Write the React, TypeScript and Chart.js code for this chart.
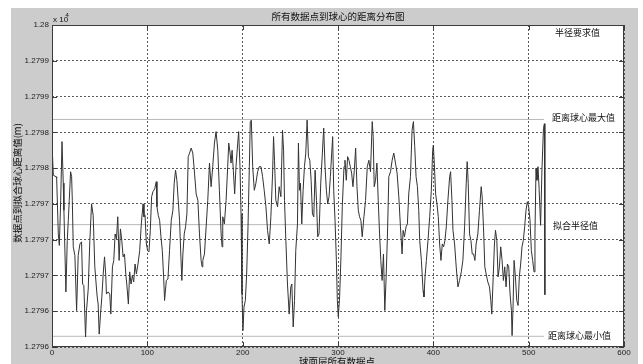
import React, { useEffect, useRef } from "react";
import { Chart, registerables } from "chart.js";

Chart.register(...registerables);

const TITLE = "所有数据点到球心的距离分布图";
const X_LABEL = "球面层所有数据点";
const Y_LABEL = "数据点到拟合球心距离值(m)";
const Y_EXP_BASE = "x 10";
const Y_EXP_POWER = "4";

const xTickValues = [0, 100, 200, 300, 400, 500, 600];
const yTickValues = [12795.5, 12796, 12796.5, 12797, 12797.5, 12798, 12798.5, 12799, 12799.5, 12800];
const yTickLabels = ["1.2796", "1.2796", "1.2797", "1.2797", "1.2797", "1.2798", "1.2798", "1.2799", "1.2799", "1.28"];

const refNames = ["半径要求值", "距离球心最大值", "拟合半径值", "距离球心最小值"];
const refValues = [12800, 12798.68, 12797.21, 12795.65];
const refLineEnd = 516;
const refLabelX = [527.5, 524.5, 525.5, 520.3];
const refLabelY = [12799.89, 12798.7, 12797.2, 12795.66];

// [point index, distance (m)]
const distanceSamples: [number, number][] = [
  [0, 12798.34], [1.4, 12797.9], [4.2, 12797.88], [4.9, 12797.86], [6.6, 12797.08], [7.7, 12796.92],
  [9.1, 12797.55], [10.5, 12798.37], [11.8, 12797.79], [12.5, 12797.41], [14.6, 12796.27], [16.0, 12796.99],
  [17.1, 12797.27], [18.1, 12797.55], [19.5, 12797.95], [20.6, 12797.88], [21.3, 12797.55], [22.3, 12796.9],
  [24.0, 12796.78], [25.8, 12796.01], [27.5, 12796.78], [29.3, 12796.94], [31.0, 12796.97], [32.1, 12796.38],
  [33.4, 12796.36], [35.2, 12795.64], [36.2, 12796.01], [38.0, 12796.31], [39.7, 12796.99], [41.5, 12797.5],
  [43.2, 12797.34], [44.9, 12796.62], [46.7, 12796.31], [47.4, 12796.2], [48.4, 12796.1], [49.5, 12795.68],
  [50.9, 12795.96], [52.3, 12796.2], [53.7, 12796.52], [55.1, 12796.76], [56.4, 12796.5], [57.1, 12796.24],
  [58.9, 12796.27], [60.6, 12796.24], [61.7, 12795.96], [63.4, 12796.62], [64.8, 12796.71], [66.2, 12797.08],
  [67.6, 12797.01], [69.0, 12797.32], [70.4, 12796.71], [71.8, 12797.15], [73.2, 12796.99], [74.6, 12796.76],
  [76.0, 12796.8], [77.4, 12796.52], [78.7, 12796.34], [80.1, 12796.1], [81.5, 12796.55], [82.9, 12796.38],
  [84.3, 12796.5], [85.7, 12796.41], [87.1, 12796.66], [88.5, 12796.52], [90.2, 12796.66], [92.0, 12796.85],
  [93.7, 12797.22], [95.5, 12797.5], [96.5, 12797.32], [97.6, 12797.34], [99.0, 12796.94], [100.3, 12796.85],
  [101.7, 12796.83], [103.1, 12797.13], [104.5, 12797.6], [105.9, 12797.67], [107.7, 12797.71], [109.4, 12797.81],
  [110.1, 12797.46], [111.5, 12797.34], [112.9, 12797.27], [114.3, 12797.04], [115.7, 12796.85], [117.1, 12796.48],
  [118.1, 12796.15], [119.9, 12796.43], [121.6, 12796.45], [123.3, 12796.85], [125.1, 12797.27], [126.8, 12797.41],
  [128.2, 12797.79], [129.6, 12797.97], [131.0, 12797.83], [132.4, 12797.55], [133.8, 12797.27], [135.2, 12796.76],
  [136.2, 12796.43], [137.3, 12796.8], [138.7, 12797.08], [140.1, 12797.18], [141.5, 12797.36], [142.9, 12798.16],
  [144.3, 12798.21], [146.0, 12798.28], [147.7, 12798.21], [149.5, 12797.93], [151.2, 12797.64], [153.0, 12797.55],
  [154.7, 12797.08], [156.4, 12796.71], [157.5, 12796.62], [158.2, 12796.71], [159.9, 12796.8], [161.7, 12797.18],
  [163.4, 12797.55], [165.2, 12798.07], [166.9, 12797.74], [168.6, 12798.02], [170.4, 12798.35], [172.1, 12798.51],
  [173.9, 12798.25], [175.6, 12797.69], [177.4, 12797.08], [178.4, 12796.9], [179.1, 12797.32], [180.8, 12797.22],
  [182.6, 12797.55], [184.3, 12798.02], [185.4, 12798.35], [186.8, 12798.21], [187.8, 12798.07], [188.9, 12798.25],
  [190.2, 12797.97], [191.6, 12797.64], [193.0, 12798.02], [194.8, 12798.35], [195.8, 12798.51], [197.2, 12798.02],
  [198.3, 12797.36], [199.3, 12796.24], [200.3, 12795.73], [201.4, 12796.06], [202.8, 12796.15], [204.2, 12796.52],
  [205.6, 12797.18], [207.0, 12798.02], [208.0, 12798.65], [209.1, 12798.67], [210.5, 12798.02], [212.2, 12797.69],
  [213.9, 12797.79], [215.7, 12797.95], [217.4, 12798.02], [219.2, 12798.02], [220.9, 12797.88], [222.6, 12797.69],
  [224.4, 12797.46], [226.1, 12797.13], [227.9, 12796.94], [229.6, 12797.32], [231.4, 12797.93], [232.4, 12798.44],
  [233.4, 12798.11], [234.8, 12797.55], [236.6, 12797.46], [238.3, 12797.74], [240.1, 12797.6], [241.8, 12798.53],
  [242.9, 12798.25], [243.9, 12797.55], [245.3, 12796.99], [247.0, 12796.38], [248.8, 12795.96], [250.5, 12796.34],
  [251.6, 12796.38], [253.0, 12795.78], [254.4, 12796.15], [255.7, 12796.85], [257.5, 12797.22], [258.5, 12798.35],
  [259.6, 12797.69], [260.6, 12797.79], [262.0, 12797.22], [263.4, 12797.69], [264.8, 12798.02], [266.2, 12798.21],
  [267.6, 12798.67], [269.0, 12798.16], [270.4, 12798.11], [271.8, 12797.83], [273.2, 12797.36], [274.6, 12797.32],
  [276.0, 12797.97], [277.4, 12797.55], [278.7, 12797.04], [280.1, 12797.08], [281.9, 12797.79], [283.6, 12798.21],
  [285.0, 12798.56], [286.4, 12798.02], [287.8, 12797.69], [289.2, 12797.5], [290.6, 12797.6], [292.0, 12797.88],
  [293.4, 12798.21], [294.4, 12798.44], [295.5, 12797.69], [296.9, 12797.27], [298.3, 12796.71], [299.3, 12796.15],
  [300.3, 12795.92], [301.7, 12796.2], [303.1, 12796.76], [304.5, 12797.46], [306.3, 12798.02], [307.3, 12798.11],
  [308.7, 12797.83], [310.1, 12798.16], [311.5, 12798.11], [312.9, 12798.02], [314.3, 12797.93], [315.7, 12797.74],
  [317.1, 12797.97], [318.5, 12798.28], [319.9, 12797.74], [321.3, 12797.41], [322.6, 12797.32], [324.0, 12797.27],
  [325.4, 12797.04], [327.2, 12797.32], [328.9, 12797.55], [330.7, 12798.02], [332.4, 12798.11], [334.1, 12797.95],
  [335.9, 12798.65], [336.9, 12798.44], [338.0, 12797.74], [339.4, 12797.83], [340.8, 12798.07], [342.2, 12797.55],
  [343.6, 12797.08], [344.9, 12796.71], [346.3, 12796.43], [347.7, 12796.8], [349.1, 12796.01], [350.5, 12796.48],
  [351.9, 12797.08], [353.3, 12797.88], [355.1, 12797.95], [356.8, 12798.11], [358.5, 12798.21], [360.3, 12798.07],
  [362.0, 12797.93], [363.8, 12797.6], [365.5, 12797.18], [367.2, 12796.8], [368.3, 12797.13], [369.7, 12797.04],
  [371.4, 12797.18], [372.8, 12797.22], [374.2, 12797.64], [376.0, 12797.88], [377.7, 12798.53], [379.1, 12798.65],
  [380.5, 12798.3], [381.9, 12797.88], [383.3, 12797.74], [384.7, 12797.41], [385.7, 12796.99], [387.5, 12796.71],
  [389.2, 12796.29], [390.2, 12796.2], [391.3, 12796.48], [392.7, 12796.71], [394.4, 12796.99], [396.2, 12797.32],
  [397.9, 12797.69], [399.3, 12798.25], [400.0, 12798.32], [401.0, 12798.07], [402.4, 12797.64], [403.8, 12797.5],
  [405.2, 12797.32], [406.6, 12796.94], [408.0, 12796.71], [409.4, 12796.94], [410.8, 12796.9], [412.2, 12796.99],
  [413.6, 12797.18], [415.3, 12797.55], [417.1, 12797.88], [418.1, 12797.95], [419.5, 12797.55], [420.6, 12797.13],
  [422.3, 12796.94], [424.0, 12796.62], [425.8, 12796.34], [427.5, 12796.43], [429.3, 12796.55], [431.0, 12796.71],
  [432.8, 12797.18], [434.5, 12797.79], [435.5, 12798.09], [436.6, 12797.79], [438.0, 12797.08], [439.4, 12796.99],
  [440.8, 12796.8], [442.2, 12796.8], [443.6, 12796.71], [444.9, 12796.94], [446.7, 12797.08], [448.4, 12797.41],
  [450.2, 12797.74], [451.2, 12797.6], [452.6, 12797.18], [454.0, 12796.62], [455.4, 12796.52], [457.1, 12796.41],
  [458.9, 12796.34], [460.3, 12796.15], [461.3, 12795.96], [462.4, 12796.34], [464.1, 12796.94], [465.2, 12797.13],
  [466.6, 12796.99], [467.9, 12796.48], [469.3, 12796.62], [470.7, 12796.9], [472.1, 12796.71], [473.5, 12796.43],
  [474.9, 12796.62], [476.3, 12796.34], [477.7, 12796.66], [479.1, 12796.62], [480.5, 12796.24], [481.9, 12796.01],
  [482.6, 12795.66], [483.6, 12796.06], [484.7, 12796.71], [486.1, 12796.48], [487.5, 12796.15], [488.9, 12796.08],
  [490.2, 12796.48], [491.6, 12796.66], [493.0, 12796.9], [494.4, 12796.99], [495.8, 12797.18], [497.2, 12797.41],
  [498.6, 12797.53], [500.0, 12797.46], [501.4, 12797.27], [502.8, 12796.85], [504.2, 12796.71], [505.6, 12796.55],
  [506.6, 12797.08], [507.7, 12798.0], [508.7, 12797.83], [509.8, 12798.02], [511.0, 12797.7], [512.5, 12797.2],
  [514.0, 12798.0], [515.5, 12798.55], [516.5, 12798.62], [517.0, 12796.23],
];

const FIG_BG = "#cccccc";
const CJK = '"Noto Sans CJK SC", "Noto Sans", sans-serif';
const LATIN = '"Liberation Sans", Arial, sans-serif';

const matlabPlugin = {
  id: "matlabLook",
  beforeDraw(chart: any) {
    const { ctx, chartArea: a, width, height } = chart;
    ctx.save();
    ctx.fillStyle = "#ffffff";
    ctx.fillRect(0, 0, width, height);
    ctx.fillStyle = FIG_BG;
    ctx.fillRect(11, 8, width - 16, height - 8);
    ctx.fillStyle = "#ffffff";
    ctx.fillRect(a.left, a.top, a.right - a.left, a.bottom - a.top);
    ctx.restore();
  },
  afterDraw(chart: any) {
    const { ctx, chartArea: a, scales } = chart;
    const xs = scales.x;
    const ys = scales.y;
    ctx.save();
    // box
    ctx.strokeStyle = "#3c3c3c";
    ctx.lineWidth = 1;
    ctx.strokeRect(Math.round(a.left) + 0.5, Math.round(a.top) + 0.5, Math.round(a.right - a.left) - 1, Math.round(a.bottom - a.top) - 1);
    // inward tick marks
    ctx.beginPath();
    xTickValues.forEach((v) => {
      const px = Math.round(xs.getPixelForValue(v)) + 0.5;
      ctx.moveTo(px, a.bottom);
      ctx.lineTo(px, a.bottom - 5);
      ctx.moveTo(px, a.top);
      ctx.lineTo(px, a.top + 5);
    });
    yTickValues.forEach((v) => {
      const py = Math.round(ys.getPixelForValue(v)) + 0.5;
      ctx.moveTo(a.left, py);
      ctx.lineTo(a.left + 5, py);
      ctx.moveTo(a.right, py);
      ctx.lineTo(a.right - 5, py);
    });
    ctx.stroke();

    ctx.fillStyle = "#111111";
    // title
    ctx.font = `9.5px ${CJK}`;
    ctx.textAlign = "center";
    ctx.textBaseline = "middle";
    ctx.fillText(TITLE, (a.left + a.right) / 2, a.top - 9);
    // x label
    ctx.fillText(X_LABEL, (a.left + a.right) / 2 - 1, a.bottom + 14);
    // y label
    ctx.save();
    ctx.translate(a.left - 34.5, (a.top + a.bottom) / 2 - 3);
    ctx.rotate(-Math.PI / 2);
    ctx.fillText(Y_LABEL, 0, 0);
    ctx.restore();
    // exponent
    ctx.textAlign = "left";
    ctx.font = `8px ${LATIN}`;
    ctx.fillText(Y_EXP_BASE, a.left + 1, a.top - 5.5);
    ctx.font = `6px ${LATIN}`;
    ctx.fillText(Y_EXP_POWER, a.left + 13.5, a.top - 10);
    // reference labels
    ctx.font = `9px ${CJK}`;
    refNames.forEach((name, i) => {
      ctx.fillText(name, xs.getPixelForValue(refLabelX[i]), ys.getPixelForValue(refLabelY[i]));
    });
    ctx.restore();
  },
};

export default function App() {
  const canvasRef = useRef<HTMLCanvasElement | null>(null);

  useEffect(() => {
    document.body.style.margin = "0";
    const canvas = canvasRef.current;
    if (!canvas) return;

    const refDatasets = refValues.map((v) => ({
      label: "ref",
      data: [
        { x: 0, y: v },
        { x: refLineEnd, y: v },
      ],
      borderColor: "#b8b8b8",
      borderWidth: 1,
      pointRadius: 0,
      tension: 0,
    }));

    const chart = new Chart(canvas, {
      type: "line",
      data: {
        datasets: [
          {
            label: "distance",
            data: distanceSamples.map(([x, y]) => ({ x, y })),
            borderColor: "#333333",
            borderWidth: 1,
            pointRadius: 0,
            tension: 0,
          },
          ...refDatasets,
        ],
      },
      options: {
        responsive: false,
        animation: false,
        devicePixelRatio: 1,
        layout: { padding: { top: 25, right: 19, left: 0, bottom: 0 } },
        plugins: {
          legend: { display: false },
          tooltip: { enabled: false },
          title: { display: false },
        },
        scales: {
          x: {
            type: "linear",
            min: 0,
            max: 600,
            afterFit: (s: any) => {
              s.height = 17;
            },
            afterBuildTicks: (s: any) => {
              s.ticks = xTickValues.map((v) => ({ value: v }));
            },
            ticks: {
              padding: 1,
              color: "#222",
              font: { family: LATIN, size: 8 },
              maxRotation: 0,
              callback: (v: any) => String(v),
            },
            grid: { color: "#5a5a5a", lineWidth: 1, drawTicks: false },
            border: { display: false, dash: [2, 2] },
          },
          y: {
            type: "linear",
            min: 12795.5,
            max: 12800,
            afterFit: (s: any) => {
              s.width = 52;
            },
            afterBuildTicks: (s: any) => {
              s.ticks = yTickValues.map((v) => ({ value: v }));
            },
            ticks: {
              padding: 3,
              color: "#222",
              font: { family: LATIN, size: 8 },
              callback: (_v: any, i: number) => yTickLabels[i],
            },
            grid: { color: "#5a5a5a", lineWidth: 1, drawTicks: false },
            border: { display: false, dash: [2, 2] },
          },
        },
      },
      plugins: [matlabPlugin],
    });

    return () => chart.destroy();
  }, []);

  return (
    <div style={{ width: 643, height: 364 }}>
      <canvas ref={canvasRef} width={643} height={364} style={{ display: "block" }} />
    </div>
  );
}
